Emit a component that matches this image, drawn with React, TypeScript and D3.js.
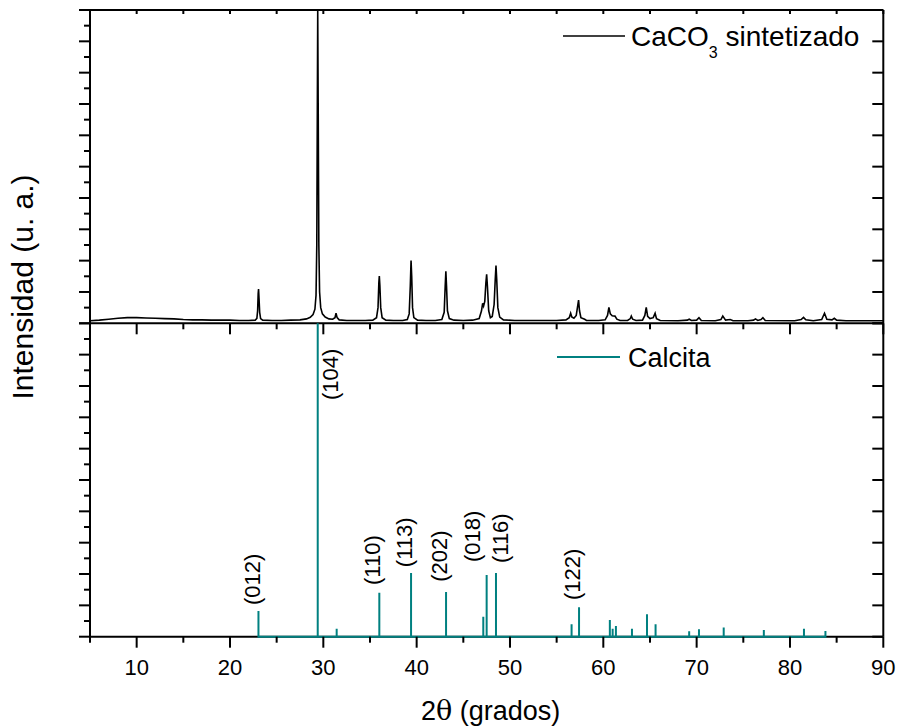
import React from 'react';
import * as d3 from 'd3';

// Top panel: synthesized CaCO3 pattern (2θ, intensity %)
const sampleTheta = [
  5.0, 6.0, 7.0, 8.0, 9.0, 10.0, 11.0, 12.0, 13.0, 14.0, 15.0, 16.0, 17.0, 18.0, 19.0, 20.0, 21.0, 22.0,
  22.7, 22.88, 22.96, 23.02, 23.06, 23.11, 23.18, 23.28, 23.5, 24.5, 25.5, 26.5, 27.5, 28.2, 28.6, 28.9,
  29.1, 29.22, 29.3, 29.36, 29.4, 29.45, 29.52, 29.6, 29.72, 29.9, 30.2, 30.6, 31.0, 31.25, 31.36, 31.48,
  31.7, 32.5, 33.5, 34.5, 35.3, 35.7, 35.86, 35.95, 36.0, 36.06, 36.15, 36.3, 36.7, 37.5, 38.5, 39.0,
  39.2, 39.32, 39.4, 39.47, 39.56, 39.7, 40.1, 41.0, 42.0, 42.7, 42.95, 43.06, 43.13, 43.2, 43.3, 43.5,
  44.0, 45.0, 46.0, 46.7, 46.95, 47.07, 47.17, 47.3, 47.42, 47.5, 47.58, 47.72, 47.9, 48.1, 48.3, 48.42,
  48.5, 48.58, 48.7, 48.9, 49.3, 50.5, 52.0, 53.5, 55.0, 56.0, 56.35, 56.5, 56.62, 56.85, 57.1, 57.25,
  57.35, 57.45, 57.6, 58.0, 58.2, 59.5, 60.2, 60.45, 60.6, 60.75, 60.95, 61.25, 61.45, 61.8, 62.6, 62.9,
  63.0, 63.15, 63.5, 64.2, 64.45, 64.6, 64.75, 65.0, 65.35, 65.55, 65.7, 66.1, 68.0, 69.0, 69.2, 69.45,
  70.0, 70.25, 70.5, 72.0, 72.6, 72.8, 73.1, 73.6, 73.9, 75.5, 76.1, 76.3, 76.55, 76.9, 77.1, 77.35,
  80.5, 81.2, 81.45, 81.7, 82.5, 83.4, 83.7, 83.95, 84.5, 84.75, 85.0, 86.0, 88.0, 90.0,
];
const sampleIntensity = [
  0.8, 1.0, 1.3, 1.6, 1.8, 1.8, 1.7, 1.6, 1.5, 1.4, 1.2, 1.1, 1.1, 1.0, 1.0, 1.0, 0.9, 0.9,
  1.0, 1.6, 4.0, 9.5, 10.9, 8.0, 3.5, 1.5, 1.0, 0.9, 0.9, 1.0, 1.1, 1.4, 1.9, 2.8,
  4.5, 9, 25, 70, 100, 70, 25, 10, 5, 3, 2, 1.4, 1.3, 1.8, 3.2, 1.8,
  1.1, 0.9, 0.9, 0.9, 1.0, 1.8, 5, 13, 15.1, 12, 5, 1.8, 1.0, 0.9, 0.9, 1.2,
  3, 12, 20, 15, 5, 1.8, 1.0, 0.9, 0.9, 1.2, 3.5, 12, 16.6, 12, 4, 1.5,
  1.0, 0.9, 1.0, 1.5, 4, 6.4, 5.5, 7, 13, 15.6, 12, 4, 1.8, 2.2, 6, 14,
  18.4, 14, 5, 2, 1.1, 0.9, 0.9, 0.9, 0.9, 1.1, 1.8, 3.2, 2.0, 1.6, 2.5, 5.5,
  7.4, 4, 1.8, 1.3, 0.9, 0.9, 1.1, 2.5, 5.1, 3.0, 2.4, 2.3, 1.3, 0.9, 0.9, 1.5,
  2.3, 1.3, 0.9, 1.0, 2.5, 5.1, 2.2, 1.5, 1.8, 3.2, 1.5, 0.9, 0.8, 1.0, 1.3, 0.9,
  1.0, 1.8, 0.9, 0.8, 1.2, 2.3, 1.0, 1.2, 0.8, 0.8, 1.0, 1.4, 0.9, 1.2, 1.8, 0.9,
  0.8, 1.2, 1.9, 1.1, 0.8, 1.2, 3.2, 1.3, 1.1, 1.6, 1.0, 0.8, 0.8, 0.8,
];

// Bottom panel: Calcite reference sticks
const calcitaTheta = [
  23.05, 29.4, 31.43, 36.0, 39.4, 43.15, 47.14, 47.5, 48.5, 56.6, 57.4, 60.7, 61.0, 61.35,
  63.07, 64.68, 65.6, 69.2, 70.25, 72.9, 77.2, 81.5, 83.8,
];
const calcitaIntensity = [
  8.2, 100, 2.5, 14, 20.3, 14.3, 6.4, 19.7, 20.3, 4, 9.4, 5.3, 2.5, 3.4,
  2.5, 7.2, 4, 1.7, 2.4, 2.9, 2.1, 2.5, 1.8,
];

// Miller index annotations (text, 2θ anchor, intensity anchor)
const hklText = ['(012)', '(104)', '(110)', '(113)', '(202)', '(018)', '(116)', '(122)'];
const hklTheta = [23.25, 31.6, 36.1, 39.55, 43.3, 46.8, 49.8, 57.45];
const hklLevel = [10.1, 75.5, 16.5, 22.2, 17.5, 23.8, 23.5, 11.7];

const xTickValues = [10, 20, 30, 40, 50, 60, 70, 80, 90];

const FONT = 'Liberation Sans, Arial, Helvetica, sans-serif';
const TEAL = '#008080';

export default function App() {
  const W = 899;
  const H = 728;
  const left = 90;
  const right = 883.3;
  const top = 10;
  const mid = 323.3;
  const bottom = 636.7;

  const x = d3.scaleLinear().domain([5, 90]).range([left, right]);
  const yTop = d3.scaleLinear().domain([0, 100]).range([mid, top]);
  const yBot = d3.scaleLinear().domain([0, 100]).range([bottom, mid]);

  const pts: [number, number][] = sampleTheta.map((t, i) => [t, sampleIntensity[i]]);
  const topPath = d3
    .line<[number, number]>()
    .x((d) => x(d[0]))
    .y((d) => yTop(d[1]))(pts) as string;

  const stickPts: [number, number][] = [];
  calcitaTheta.forEach((t, i) => {
    stickPts.push([t, 0], [t, calcitaIntensity[i]], [t, 0]);
  });
  const stickPath = d3
    .line<[number, number]>()
    .x((d) => x(d[0]))
    .y((d) => yBot(d[1]))(stickPts) as string;

  const xAll = d3.range(5, 91, 5);
  const yAll = d3.range(0, 101, 5);
  const axisColor = '#000';
  const aw = 2;

  return (
    <svg
      width={W}
      height={H}
      style={{ position: 'absolute', left: 0, top: 0, background: '#fff' }}
      fontFamily={FONT}
    >
      <rect x={0} y={0} width={W} height={H} fill="#fff" />
      <defs>
        <clipPath id="topClip">
          <rect x={left} y={top} width={right - left} height={mid - top} />
        </clipPath>
      </defs>

      {/* data */}
      <path d={topPath} fill="none" stroke="#000" strokeWidth={1.6} clipPath="url(#topClip)" />

      {/* frame */}
      <g stroke={axisColor} strokeWidth={aw} fill="none">
        <line x1={left} x2={right} y1={top} y2={top} />
        <line x1={left} x2={right} y1={mid} y2={mid} />
        <line x1={left} x2={right} y1={bottom} y2={bottom} />
        <line x1={left} x2={left} y1={top} y2={bottom} />
        <line x1={right} x2={right} y1={top} y2={bottom} />
      </g>

      <path d={stickPath} fill="none" stroke={TEAL} strokeWidth={2} />

      {/* x ticks */}
      <g stroke={axisColor} strokeWidth={aw}>
        {xAll.map((v) => {
          const major = v % 10 === 0;
          const px = x(v);
          return (
            <g key={'xt' + v}>
              <line x1={px} x2={px} y1={bottom} y2={bottom + (major ? 11 : 6)} />
              <line x1={px} x2={px} y1={mid} y2={mid + (major ? 11 : 6)} />
              <line x1={px} x2={px} y1={top} y2={top + 4} />
            </g>
          );
        })}
      </g>

      {/* y ticks */}
      <g stroke={axisColor} strokeWidth={aw}>
        {yAll.map((v) => {
          const major = v % 10 === 0;
          const a = yTop(v);
          const b = yBot(v);
          return (
            <g key={'yt' + v}>
              <line x1={left} x2={left - (major ? 11 : 6)} y1={a} y2={a} />
              <line x1={left} x2={left - (major ? 11 : 6)} y1={b} y2={b} />
              {major && <line x1={right} x2={right - 11} y1={a} y2={a} />}
              {major && <line x1={right} x2={right - 11} y1={b} y2={b} />}
            </g>
          );
        })}
      </g>

      {/* x tick labels */}
      <g fontSize={22} textAnchor="middle" fill="#000">
        {xTickValues.map((v) => (
          <text key={'xl' + v} x={x(v)} y={675}>
            {v}
          </text>
        ))}
      </g>

      {/* axis titles */}
      <text x={(left + right) / 2 + 4} y={720} fontSize={27} textAnchor="middle" fill="#000">
        <tspan>2</tspan>
        <tspan fontFamily="DejaVu Serif, serif">θ</tspan>
        <tspan> (grados)</tspan>
      </text>
      <text
        transform={`translate(33, 287) rotate(-90)`}
        fontSize={30}
        textAnchor="middle"
        fill="#000"
      >
        Intensidad (u. a.)
      </text>

      {/* hkl labels */}
      <g fontSize={22} fill="#000">
        {hklText.map((t, i) => (
          <text
            key={'h' + i}
            transform={`translate(${x(hklTheta[i])}, ${yBot(hklLevel[i])}) rotate(-90)`}
            textAnchor="start"
          >
            {t}
          </text>
        ))}
      </g>

      {/* legends */}
      <line x1={563} x2={625} y1={36} y2={36} stroke="#000" strokeWidth={1.6} />
      <text x={631} y={46} fontSize={28} fill="#000">
        CaCO
        <tspan fontSize={16} dy={12}>3</tspan>
        <tspan dy={-12}> sintetizado</tspan>
      </text>

      <line x1={557} x2={620} y1={357} y2={357} stroke={TEAL} strokeWidth={2} />
      <text x={628} y={367} fontSize={27} fill="#000">
        Calcita
      </text>
    </svg>
  );
}
